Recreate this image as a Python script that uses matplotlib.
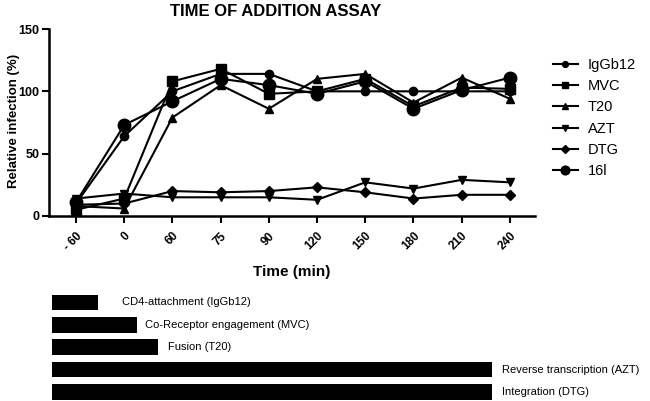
import matplotlib
matplotlib.use("Agg")
import matplotlib.pyplot as plt
import numpy as np

plt.rcParams['font.family'] = ['Liberation Sans', 'DejaVu Sans']

time_labels = ['- 60', '0', '60', '75', '90', '120', '150', '180', '210', '240']
series_names = ['IgGb12', 'MVC', 'T20', 'AZT', 'DTG', '16l']
IgGb12 = [10, 64, 100, 114, 114, 100, 100, 100, 100, 100]
MVC = [5, 14, 108, 118, 98, 100, 110, 88, 103, 102]
T20 = [8, 6, 79, 105, 86, 110, 114, 91, 111, 94]
AZT = [14, 18, 15, 15, 15, 13, 27, 22, 29, 27]
DTG = [9, 10, 20, 19, 20, 23, 19, 14, 17, 17]
C16l = [11, 73, 92, 110, 105, 98, 108, 86, 101, 111]

bar_labels = ['CD4-attachment (IgGb12)', 'Co-Receptor engagement (MVC)', 'Fusion (T20)',
              'Reverse transcription (AZT)', 'Integration (DTG)']
bar_lengths = [46, 85, 106, 440, 440]
label_pads = [24, 8, 10, 10, 10]

series = [IgGb12, MVC, T20, AZT, DTG, C16l]
markers = ['o', 's', '^', 'v', 'D', 'o']
msizes = [6, 6.5, 6, 6, 5.5, 9]

W, H = 650, 401
fig = plt.figure(figsize=(W / 100, H / 100), dpi=100)

# main axes
l, r, t, b = 49, 535, 29, 216
ax = fig.add_axes([l / W, 1 - b / H, (r - l) / W, (b - t) / H])
x = np.arange(len(time_labels))
handles = []
for vals, name, m, ms in zip(series, series_names, markers, msizes):
    h, = ax.plot(x, vals, color='black', lw=1.5, marker=m, ms=ms,
                 markerfacecolor='black', markeredgecolor='black', label=name)
    handles.append(h)

ax.set_xlim(-0.56, 9.52)
ax.set_ylim(0, 150)
ax.set_yticks([0, 50, 100, 150])
ax.set_xticks(x)
ax.set_xticklabels(time_labels, rotation=45, ha='right', rotation_mode='anchor',
                   fontsize=8.5, fontweight='bold')
for lab in ax.get_yticklabels():
    lab.set_fontweight('bold')
    lab.set_fontsize(9)
ax.spines['top'].set_visible(False)
ax.spines['right'].set_visible(False)
ax.spines['left'].set_linewidth(1.8)
ax.spines['bottom'].set_linewidth(1.8)
ax.tick_params(axis='both', direction='out', length=5, width=1.5, pad=2)
ax.tick_params(axis='x', pad=5)
ax.set_ylabel('Relative infection (%)', fontsize=9.5, fontweight='bold')
ax.yaxis.set_label_coords((20 - l) / (r - l), 0.51)
ax.set_xlabel('Time (min)', fontsize=11, fontweight='bold', labelpad=9)
fig.text(276 / W, 1 - 11 / H, 'TIME OF ADDITION ASSAY', ha='center', va='center',
         fontsize=12, fontweight='bold')

leg = fig.legend(handles=handles, labels=series_names, loc='upper left',
                 bbox_to_anchor=(547 / W, 1 - 52 / H), frameon=False,
                 fontsize=10.5, handlelength=1.7, handletextpad=0.7,
                 labelspacing=0.5, borderaxespad=0, markerscale=0.7)

# bars
bl = 52
ax2 = fig.add_axes([bl / W, 0, (W - bl) / W, (H - 291.3) / H])
rows = np.arange(len(bar_labels))
ax2.barh(rows, bar_lengths, height=0.7, left=0, color='black')
for i, (lab, L, p) in enumerate(zip(bar_labels, bar_lengths, label_pads)):
    ax2.text(L + p, i, lab, ha='left', va='center', fontsize=8)
ax2.set_xlim(0, W - bl)
ax2.set_ylim(4.4, -0.5)
ax2.axis('off')

fig.savefig('out.png', dpi=100)
